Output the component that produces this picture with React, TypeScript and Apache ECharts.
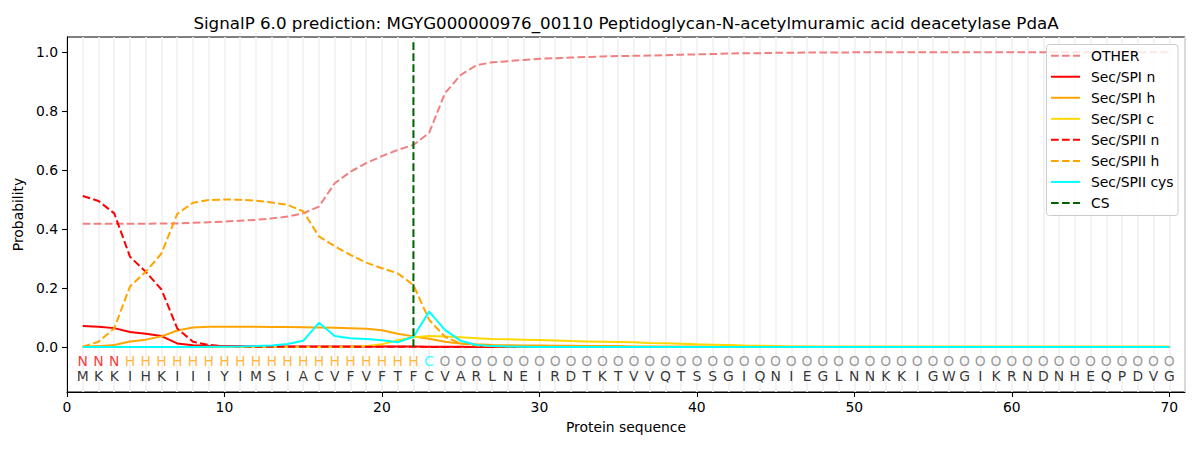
import React, { useEffect, useRef } from "react";
import * as echarts from "echarts";

const TITLE =
  "SignalP 6.0 prediction: MGYG000000976_00110 Peptidoglycan-N-acetylmuramic acid deacetylase PdaA";

const sequence =
  "MKKIHKIIIYIMSIACVFVFTFCVARLNEIRDTKTVVQTSSGIQNIEGLNNKKIGWGIKRNDNHEQPDVG".split("");
const regionLabels = (
  "NNN" + "HHHHHHHHHHHHHHHHHHH" + "C" + "O".repeat(47)
).split("");

const other = [
  0.418, 0.418, 0.418, 0.418, 0.418, 0.419, 0.419, 0.421, 0.423, 0.425,
  0.428, 0.431, 0.436, 0.442, 0.453, 0.476, 0.555, 0.594, 0.623, 0.647,
  0.668, 0.685, 0.726, 0.86, 0.922, 0.955, 0.965, 0.969, 0.973, 0.977,
  0.979, 0.981, 0.983, 0.985, 0.986, 0.987, 0.988, 0.989, 0.991, 0.992,
  0.993, 0.995, 0.996, 0.996, 0.997, 0.997, 0.998, 0.998, 0.998, 0.999,
  0.999, 0.999, 0.999, 0.999, 0.999, 0.999, 0.999, 0.999, 0.999, 0.999,
  0.999, 0.999, 0.999, 0.999, 0.999, 0.999, 0.999, 0.999, 0.999, 0.999,
];
const secSpiN = [
  0.071, 0.069, 0.064, 0.051, 0.045, 0.037, 0.012, 0.006, 0.004, 0.003,
  0.003, 0.002, 0.002, 0.002, 0.002, 0.002, 0.002, 0.002, 0.002, 0.002,
  0.002, 0.002, 0.001, 0.001, 0.001, 0, 0, 0, 0, 0,
  0, 0, 0, 0, 0, 0, 0, 0, 0, 0,
  0, 0, 0, 0, 0, 0, 0, 0, 0, 0,
  0, 0, 0, 0, 0, 0, 0, 0, 0, 0,
  0, 0, 0, 0, 0, 0, 0, 0, 0, 0,
];
const secSpiH = [
  0.001, 0.003, 0.007, 0.019, 0.025, 0.036, 0.056, 0.066, 0.069, 0.069,
  0.069, 0.069, 0.068, 0.068, 0.067, 0.066, 0.065, 0.064, 0.062, 0.057,
  0.045, 0.036, 0.028, 0.018, 0.012, 0.009, 0.007, 0.006, 0.005, 0.005,
  0.004, 0.004, 0.003, 0.003, 0.003, 0.002, 0.002, 0.002, 0.002, 0.002,
  0.001, 0.001, 0.001, 0.001, 0.001, 0.001, 0.001, 0.001, 0.001, 0.001,
  0.001, 0.001, 0.001, 0.001, 0.001, 0.001, 0.001, 0.001, 0.001, 0.001,
  0.001, 0.001, 0.001, 0.001, 0.001, 0.001, 0.001, 0.001, 0.001, 0.001,
];
const secSpiC = [
  0, 0, 0, 0, 0, 0, 0, 0, 0, 0,
  0, 0, 0, 0, 0, 0, 0, 0.001, 0.003, 0.009,
  0.023, 0.033, 0.037, 0.036, 0.033, 0.03, 0.027, 0.026, 0.025, 0.024,
  0.022, 0.02, 0.019, 0.018, 0.017, 0.016, 0.014, 0.013, 0.011, 0.009,
  0.008, 0.007, 0.005, 0.004, 0.003, 0.002, 0.002, 0.001, 0.001, 0.001,
  0.001, 0.001, 0.001, 0.001, 0.001, 0.001, 0.001, 0.001, 0.001, 0.001,
  0.001, 0.001, 0.001, 0.001, 0.001, 0.001, 0.001, 0.001, 0.001, 0.001,
];
const secSpiiN = [
  0.512, 0.495, 0.453, 0.306, 0.255, 0.195, 0.063, 0.018, 0.007, 0.003,
  0.002, 0.001, 0.001, 0.001, 0.001, 0.001, 0.001, 0.001, 0.001, 0.001,
  0.001, 0.001, 0, 0, 0, 0, 0, 0, 0, 0,
  0, 0, 0, 0, 0, 0, 0, 0, 0, 0,
  0, 0, 0, 0, 0, 0, 0, 0, 0, 0,
  0, 0, 0, 0, 0, 0, 0, 0, 0, 0,
  0, 0, 0, 0, 0, 0, 0, 0, 0, 0,
];
const secSpiiH = [
  0.001, 0.018, 0.063, 0.205, 0.255, 0.317, 0.451, 0.489, 0.498, 0.5,
  0.499, 0.496, 0.49, 0.482, 0.46, 0.375, 0.342, 0.312, 0.286, 0.267,
  0.25, 0.21, 0.092, 0.035, 0.012, 0.005, 0.003, 0.002, 0.001, 0.001,
  0, 0, 0, 0, 0, 0, 0, 0, 0, 0,
  0, 0, 0, 0, 0, 0, 0, 0, 0, 0,
  0, 0, 0, 0, 0, 0, 0, 0, 0, 0,
  0, 0, 0, 0, 0, 0, 0, 0, 0, 0,
];
const secSpiiCys = [
  0, 0, 0, 0, 0, 0, 0, 0, 0.001, 0.001,
  0.002, 0.003, 0.005, 0.01, 0.021, 0.082, 0.037, 0.03, 0.027, 0.023,
  0.016, 0.035, 0.12, 0.058, 0.021, 0.007, 0.003, 0.002, 0.001, 0,
  0, 0, 0, 0, 0, 0, 0, 0, 0, 0,
  0, 0, 0, 0, 0, 0, 0, 0, 0, 0,
  0, 0, 0, 0, 0, 0, 0, 0, 0, 0,
  0, 0, 0, 0, 0, 0, 0, 0, 0, 0,
];
const csPosition = 22;
const csTop = 1.04;
const labelRowY = -0.046;
const seqRowY = -0.097;

const legendNames = [
  "OTHER",
  "Sec/SPI n",
  "Sec/SPI h",
  "Sec/SPI c",
  "Sec/SPII n",
  "Sec/SPII h",
  "Sec/SPII cys",
  "CS",
];
const legendColors = [
  "#f08080",
  "#ff0000",
  "#ffa500",
  "#ffd700",
  "#ff0000",
  "#ffa500",
  "#00ffff",
  "#006400",
];
const legendDashed = [true, false, false, false, true, true, false, true];

const labelColors: Record<string, string> = {
  N: "#ff0000",
  H: "#ffa500",
  C: "#00ffff",
  O: "#808080",
};

const FONT = "DejaVu Sans";
const DASH = [7.7, 3.3];

function toXY(arr: number[]) {
  return arr.map((v, i) => [i + 1, v]);
}

export default function App() {
  const ref = useRef<HTMLDivElement>(null);
  useEffect(() => {
    if (!ref.current) return;
    const chart = echarts.init(ref.current, undefined, { renderer: "svg" });

    const mkLine = (name: string, data: number[], color: string, dashed: boolean) => ({
      name,
      type: "line",
      data: toXY(data),
      symbol: "none",
      xAxisIndex: 0,
      yAxisIndex: 0,
      lineStyle: { color, width: 2, type: dashed ? DASH : "solid" },
      itemStyle: { color },
      z: 3,
    });

    const legendX = 1046.5;
    const legendY = 44.5;
    const legendElems: any[] = [
      {
        type: "rect",
        z: 100,
        shape: { x: legendX, y: legendY, width: 131.5, height: 171, r: 3 },
        style: { fill: "rgba(255,255,255,0.8)", stroke: "#cccccc", lineWidth: 1 },
      },
    ];
    legendNames.forEach((n, i) => {
      const cy = 55.7 + 21.04 * i;
      legendElems.push({
        type: "line",
        z: 101,
        shape: { x1: 1051, y1: cy, x2: 1080, y2: cy },
        style: {
          stroke: legendColors[i],
          lineWidth: 2,
          lineDash: legendDashed[i] ? DASH : null,
        },
      });
      legendElems.push({
        type: "text",
        z: 101,
        x: 1091,
        y: cy,
        style: {
          text: n,
          fontFamily: FONT,
          fontSize: 13.9,
          fill: "#000",
          textAlign: "left",
          textVerticalAlign: "middle",
        },
      });
    });

    const option: any = {
      animation: false,
      textStyle: { fontFamily: FONT },
      grid: {
        left: 67,
        right: 15,
        top: 37,
        bottom: 58,
        show: true,
        borderColor: "#000",
        borderWidth: 1,
        backgroundColor: "transparent",
      },
      graphic: [
        {
          type: "text",
          x: 626,
          y: 23,
          style: {
            text: TITLE,
            fontSize: 16.7,
            fontFamily: FONT,
            fill: "#000",
            textAlign: "center",
            textVerticalAlign: "middle",
          },
        },
        ...legendElems,
      ],
      xAxis: [
        {
          type: "value",
          min: 0,
          max: 71,
          interval: 10,
          name: "Protein sequence",
          nameLocation: "middle",
          nameGap: 28,
          nameTextStyle: { fontFamily: FONT, fontSize: 13.9, color: "#000" },
          axisLine: { onZero: false, lineStyle: { color: "#000", width: 1 } },
          axisTick: { show: true, length: 5, lineStyle: { color: "#000", width: 1.1 } },
          axisLabel: { fontFamily: FONT, fontSize: 13.9, color: "#000", margin: 8 },
          splitLine: { show: false },
        },
        {
          type: "value",
          min: 0,
          max: 71,
          interval: 1,
          position: "top",
          axisLine: { show: false },
          axisTick: { show: false },
          axisLabel: { show: false },
          splitLine: { show: true, lineStyle: { color: "#f0f0f0", width: 1.6 } },
        },
      ],
      yAxis: {
        type: "value",
        min: -0.1525,
        max: 1.0508,
        name: "Probability",
        nameLocation: "middle",
        nameGap: 37,
        nameTextStyle: { fontFamily: FONT, fontSize: 13.9, color: "#000" },
        axisLine: { show: true, lineStyle: { color: "#000", width: 1 } },
        axisTick: {
          show: true,
          length: 5,
          lineStyle: { color: "#000", width: 1.1 },
          customValues: [0, 0.2, 0.4, 0.6, 0.8, 1.0],
        },
        axisLabel: {
          fontFamily: FONT,
          fontSize: 13.9,
          color: "#000",
          margin: 9,
          customValues: [0, 0.2, 0.4, 0.6, 0.8, 1.0],
          formatter: (v: number) => v.toFixed(1),
        },
        splitLine: { show: false },
      },
      series: [
        mkLine("OTHER", other, "#f08080", true),
        mkLine("Sec/SPI n", secSpiN, "#ff0000", false),
        mkLine("Sec/SPI h", secSpiH, "#ffa500", false),
        mkLine("Sec/SPI c", secSpiC, "#ffd700", false),
        mkLine("Sec/SPII n", secSpiiN, "#ff0000", true),
        mkLine("Sec/SPII h", secSpiiH, "#ffa500", true),
        mkLine("Sec/SPII cys", secSpiiCys, "#00ffff", false),
        {
          name: "CS",
          type: "line",
          data: [
            [csPosition, 0],
            [csPosition, csTop],
          ],
          symbol: "none",
          lineStyle: { color: "#006400", width: 2, type: DASH },
          itemStyle: { color: "#006400" },
          z: 4,
        },
        {
          name: "regions",
          type: "scatter",
          symbolSize: 1,
          itemStyle: { color: "transparent" },
          data: regionLabels.map((c, i) => ({
            value: [i + 1, labelRowY, c],
            label: { color: labelColors[c] },
          })),
          label: {
            show: true,
            position: "inside",
            fontFamily: FONT,
            fontSize: 13.9,
            formatter: (p: any) => p.value[2],
          },
          silent: true,
          z: 5,
        },
        {
          name: "sequence",
          type: "scatter",
          symbolSize: 1,
          itemStyle: { color: "transparent" },
          data: sequence.map((c, i) => [i + 1, seqRowY, c]),
          label: {
            show: true,
            position: "inside",
            fontFamily: FONT,
            fontSize: 13.9,
            color: "#000",
            formatter: (p: any) => p.value[2],
          },
          silent: true,
          z: 5,
        },
      ],
    };
    chart.setOption(option);
    return () => chart.dispose();
  }, []);

  return (
    <div
      ref={ref}
      style={{ position: "fixed", left: 0, top: 0, width: 1200, height: 450, background: "#fff" }}
    />
  );
}
